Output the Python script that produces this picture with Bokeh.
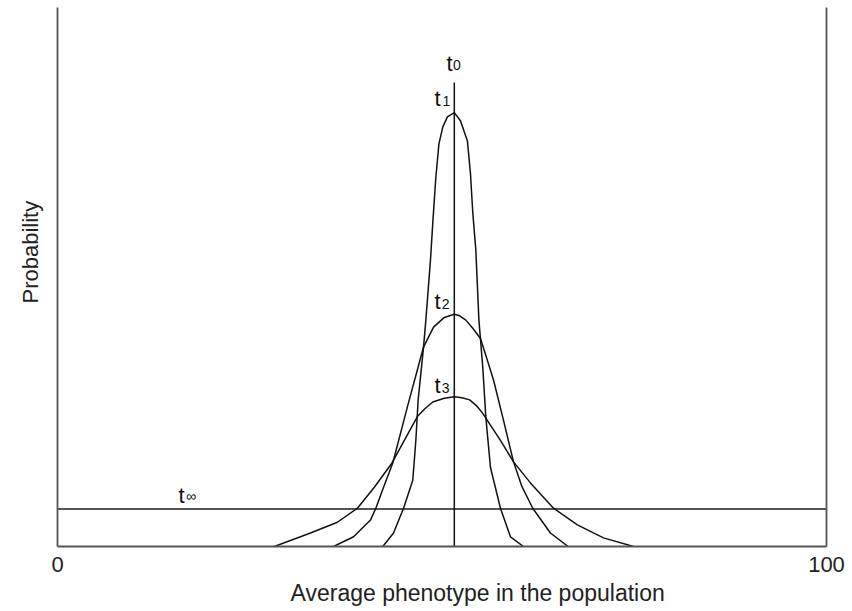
from bokeh.plotting import figure
from bokeh.models import Range1d, LinearAxis, FixedTicker, Title
from bokeh.core.properties import value
from bokeh.embed import file_html
from bokeh.resources import INLINE

# ---- data ----
t1_x = [42.3, 43.7, 45.0, 46.2, 46.6, 46.9, 47.6, 47.9, 48.1, 48.5, 48.8, 49.2, 49.6, 50.1, 50.7, 51.6,
        52.4, 53.3, 53.7, 54.0, 54.4, 54.8, 55.3, 55.7, 56.3, 57.6, 58.9, 60.6]
t1_y = [0.000, 0.025, 0.071, 0.123, 0.197, 0.272, 0.370, 0.420, 0.457, 0.531, 0.600, 0.685, 0.747, 0.778, 0.797, 0.805,
        0.790, 0.753, 0.692, 0.620, 0.550, 0.420, 0.333, 0.240, 0.147, 0.071, 0.018, 0.000]

t2_x = [35.9, 38.5, 40.7, 41.4, 42.4, 43.6, 45.5, 47.6, 48.9, 50.3, 51.6,
        52.3, 53.1, 54.0, 55.0, 55.8, 56.7, 58.0, 59.3, 60.4, 61.8, 64.1, 66.4]
t2_y = [0.000, 0.018, 0.049, 0.071, 0.110, 0.155, 0.259, 0.370, 0.407, 0.425, 0.431,
        0.428, 0.420, 0.405, 0.386, 0.350, 0.309, 0.234, 0.157, 0.111, 0.071, 0.025, 0.000]

t3_x = [28.2, 32.9, 36.4, 39.0, 41.2, 43.5, 45.1, 46.8, 47.8, 48.8, 50.3, 51.6,
        52.6, 53.6, 54.5, 55.3, 56.4, 57.6, 59.3, 61.5, 64.5, 67.6, 71.0, 74.9]
t3_y = [0.000, 0.025, 0.045, 0.071, 0.110, 0.155, 0.197, 0.241, 0.256, 0.268, 0.275, 0.278,
        0.276, 0.272, 0.261, 0.247, 0.223, 0.197, 0.157, 0.118, 0.071, 0.040, 0.016, 0.000]

t0_x = [51.6, 51.6]
t0_y = [0.0, 0.861]

tinf_x = [0, 100]
tinf_y = [0.0695, 0.0695]

curve_subscripts = ["0", "1", "2", "3", "\u221e"]
x_ticks = [0, 100]
x_title = "Average phenotype in the population"
y_title = "Probability"

# ---- figure ----
FONT = "Liberation Sans"
p = figure(width=852, height=611, output_backend="svg", toolbar_location=None,
           x_range=Range1d(0, 100), y_range=Range1d(0, 1.0),
           min_border_left=57, min_border_right=26, min_border_top=7, min_border_bottom=65)
p.outline_line_color = None
p.xgrid.visible = False
p.ygrid.visible = False
p.background_fill_color = "white"
p.border_fill_color = "white"

AX = "#555555"
xa = p.xaxis[0]
xa.ticker = FixedTicker(ticks=x_ticks)
xa.axis_line_color = AX
xa.axis_line_width = 2
xa.major_tick_line_color = None
xa.minor_tick_line_color = None
xa.major_label_text_font = FONT
xa.major_label_text_font_size = "22px"
xa.major_label_text_color = "#222222"
xa.major_label_standoff = 4

ya = p.yaxis[0]
ya.ticker = FixedTicker(ticks=[])
ya.axis_line_color = AX
ya.axis_line_width = 1.8
ya.major_tick_line_color = None
ya.minor_tick_line_color = None
ya.major_label_text_font_size = "0px"

ra = LinearAxis(ticker=FixedTicker(ticks=[]), axis_line_color=AX, axis_line_width=1.8,
                major_tick_line_color=None, minor_tick_line_color=None,
                major_label_text_font_size="0px")
p.add_layout(ra, "right")

# ---- curves ----
p.line(tinf_x, tinf_y, line_color=AX, line_width=2)
p.line(t0_x, t0_y, line_color="#111111", line_width=1.5)
for xs, ys in [(t1_x, t1_y), (t2_x, t2_y), (t3_x, t3_y)]:
    p.line(xs, ys, line_color="#111111", line_width=1.5)

# ---- curve labels: "t" with subscript ----
t_pos_x = [50.59, 49.02, 49.02, 49.02, 15.73]
t_pos_y = [0.896, 0.831, 0.455, 0.299, 0.0955]
s_pos_x = [51.43, 50.07, 49.97, 49.97, 16.71]
s_pos_y = [0.8925, 0.827, 0.450, 0.294, 0.0936]

p.text(t_pos_x, t_pos_y, text=["t"] * len(t_pos_x), text_font=value(FONT),
       text_font_size="22px", text_color="#111111", text_align="left", text_baseline="alphabetic")
p.text(s_pos_x, s_pos_y, text=curve_subscripts, text_font=value(FONT),
       text_font_size="14px", text_color="#111111", text_align="left", text_baseline="alphabetic")

# ---- axis titles ----
p.add_layout(Title(text=x_title, text_font=FONT, text_font_size="23px", text_font_style="normal",
                   text_color="#222222", align="left", offset=233, standoff=6), "below")
p.add_layout(Title(text=y_title, text_font=FONT, text_font_size="22px", text_font_style="normal",
                   text_color="#222222", align="left", offset=243, standoff=26,
                   vertical_align="top"), "left")

open("out.html", "w").write(file_html(p, INLINE))
